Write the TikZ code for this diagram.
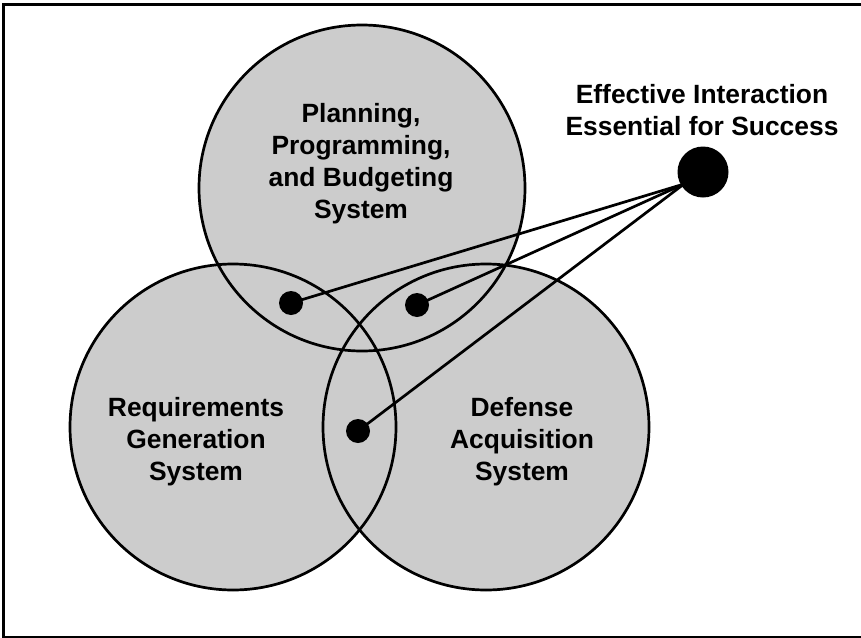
\documentclass[tikz,border=0pt]{standalone}
\usepackage{fontspec}
\setmainfont{Liberation Sans}
\definecolor{circgray}{RGB}{204,204,204}
\begin{document}
\begin{tikzpicture}[x=1pt,y=-1pt,
  sysfill/.style={circle,fill=circgray,draw=none,minimum size=328pt,inner sep=0pt},
  sysline/.style={draw=black,line width=2.7pt},
  label/.style={font=\fontsize{26.4}{32}\selectfont\bfseries,align=center,inner sep=0pt},
  smalldot/.style={circle,fill=black,minimum size=24pt,inner sep=0pt},
  bigdot/.style={circle,fill=black,minimum size=51pt,inner sep=0pt},
  link/.style={draw=black,line width=2.7pt}]
\useasboundingbox (0,0) rectangle (861,637);
% frame
\draw[line width=3pt] (3.5,4.5) rectangle (870,637.5);
% circle fills
\node[sysfill] (ppbs) at (362,188) {};
\node[sysfill] (rgs) at (233,427) {};
\node[sysfill] (das) at (486,427) {};
% circle outlines
\draw[sysline] (ppbs.center) circle[radius=163pt];
\draw[sysline] (rgs.center) circle[radius=163pt];
\draw[sysline] (das.center) circle[radius=163pt];
% dots and links
\node[smalldot] (d1) at (291,303) {};
\node[smalldot] (d2) at (417,305) {};
\node[smalldot] (d3) at (358,431) {};
\coordinate (hub) at (684,184);
\draw[link] (d1.center) -- (hub);
\draw[link] (d2.center) -- (hub);
\draw[link] (d3.center) -- (hub);
\node[bigdot] (eff) at (703,172) {};
% labels
\node[label] (tppbs) at (361,164) {Planning,\\Programming,\\and Budgeting\\System};
\node[label] (trgs) at (196,442) {Requirements\\Generation\\System};
\node[label] (tdas) at (522,442) {Defense\\Acquisition\\System};
\node[label] (teff) at (702,110) {Effective Interaction\\Essential for Success};
\end{tikzpicture}
\end{document}
